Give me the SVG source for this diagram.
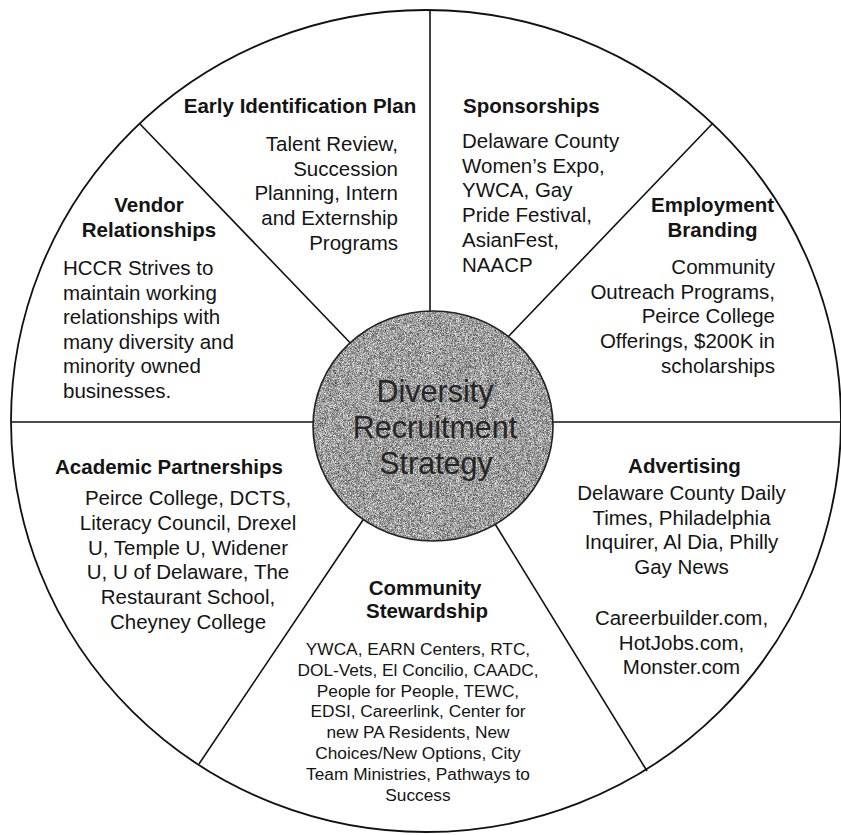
<svg xmlns="http://www.w3.org/2000/svg" width="841" height="835" viewBox="0 0 841 835">
<defs>
<style>
text{font-family:"Liberation Sans",Arial,sans-serif;fill:#141414}
.t{font-size:20.5px;font-weight:bold}
.b{font-size:20.5px}
.s{font-size:17.3px}
.c{font-size:30.5px;fill:#262626}
.m{text-anchor:middle}
.e{text-anchor:end}
.spoke{stroke:#111;stroke-width:1.6;fill:none}
</style>
<filter id="grain" x="0" y="0" width="1" height="1" color-interpolation-filters="sRGB">
<feTurbulence type="fractalNoise" baseFrequency="1.6" numOctaves="1" seed="5" result="t"/>
<feColorMatrix in="t" type="matrix" values="1.3 0 0 0 -0.03  1.3 0 0 0 -0.03  1.3 0 0 0 -0.03  0 0 0 0 1" result="g"/>
<feComposite in="g" in2="SourceGraphic" operator="in"/>
</filter>
</defs>
<rect width="841" height="835" fill="#ffffff"/>
<g id="frame">
<ellipse cx="426" cy="421" rx="415" ry="411" fill="none" stroke="#111" stroke-width="1.8"/>
</g>
<g id="connectors">
<line class="spoke" x1="430" y1="10" x2="430" y2="320"/>
<line class="spoke" x1="140" y1="124" x2="359" y2="352"/>
<line class="spoke" x1="713" y1="123" x2="505" y2="340"/>
<line class="spoke" x1="11" y1="422" x2="325" y2="422"/>
<line class="spoke" x1="540" y1="422" x2="841" y2="422"/>
<line class="spoke" x1="199" y1="764" x2="367" y2="514"/>
<line class="spoke" x1="647" y1="771" x2="492" y2="519"/>
</g>
<g id="center">
<ellipse cx="433" cy="426" rx="120" ry="115" fill="#999" filter="url(#grain)"/>
<ellipse cx="433" cy="426" rx="120" ry="115" fill="none" stroke="#222" stroke-width="1.6"/>
<text class="c m" x="435" y="402">Diversity</text>
<text class="c m" x="435" y="438">Recruitment</text>
<text class="c m" x="436" y="474">Strategy</text>
</g>
<g id="early-identification">
<text class="t m" x="300" y="113">Early Identification Plan</text>
<text class="b e" x="398" y="151">Talent Review,</text>
<text class="b e" x="398" y="175.7">Succession</text>
<text class="b e" x="398" y="200.4">Planning, Intern</text>
<text class="b e" x="398" y="225">and Externship</text>
<text class="b e" x="398" y="249.7">Programs</text>
</g>
<g id="vendor">
<text class="t m" x="149" y="212">Vendor</text>
<text class="t m" x="149" y="237">Relationships</text>
<text class="b" x="63" y="275">HCCR Strives to</text>
<text class="b" x="63" y="299.6">maintain working</text>
<text class="b" x="63" y="324.2">relationships with</text>
<text class="b" x="63" y="348.8">many diversity and</text>
<text class="b" x="63" y="373.4">minority owned</text>
<text class="b" x="63" y="398">businesses.</text>
</g>
<g id="sponsorships">
<text class="t" x="463" y="113">Sponsorships</text>
<text class="b" x="462" y="148">Delaware County</text>
<text class="b" x="462" y="172.7">Women’s Expo,</text>
<text class="b" x="462" y="197.4">YWCA, Gay</text>
<text class="b" x="462" y="222.1">Pride Festival,</text>
<text class="b" x="462" y="246.8">AsianFest,</text>
<text class="b" x="462" y="271.5">NAACP</text>
</g>
<g id="employment-branding">
<text class="t m" x="712.5" y="212">Employment</text>
<text class="t m" x="712.5" y="237">Branding</text>
<text class="b e" x="775" y="274">Community</text>
<text class="b e" x="775" y="298.7">Outreach Programs,</text>
<text class="b e" x="775" y="323.4">Peirce College</text>
<text class="b e" x="775" y="348.1">Offerings, $200K in</text>
<text class="b e" x="775" y="372.8">scholarships</text>
</g>
<g id="academic-partnerships">
<text class="t m" x="169" y="474">Academic Partnerships</text>
<text class="b m" x="188" y="505">Peirce College, DCTS,</text>
<text class="b m" x="188" y="529.8">Literacy Council, Drexel</text>
<text class="b m" x="188" y="554.6">U, Temple U, Widener</text>
<text class="b m" x="188" y="579.4">U, U of Delaware, The</text>
<text class="b m" x="188" y="604.2">Restaurant School,</text>
<text class="b m" x="188" y="629">Cheyney College</text>
</g>
<g id="community-stewardship">
<text class="t m" x="425" y="595">Community</text>
<text class="t m" x="427" y="618">Stewardship</text>
<text class="s m" x="418" y="655">YWCA, EARN Centers, RTC,</text>
<text class="s m" x="418" y="675.8">DOL-Vets, El Concilio, CAADC,</text>
<text class="s m" x="418" y="696.6">People for People, TEWC,</text>
<text class="s m" x="418" y="717.4">EDSI, Careerlink, Center for</text>
<text class="s m" x="418" y="738.2">new PA Residents, New</text>
<text class="s m" x="418" y="759">Choices/New Options, City</text>
<text class="s m" x="418" y="779.8">Team Ministries, Pathways to</text>
<text class="s m" x="418" y="800.6">Success</text>
</g>
<g id="advertising">
<text class="t m" x="684.5" y="473">Advertising</text>
<text class="b m" x="681.5" y="500">Delaware County Daily</text>
<text class="b m" x="681.5" y="524.7">Times, Philadelphia</text>
<text class="b m" x="681.5" y="549.4">Inquirer, Al Dia, Philly</text>
<text class="b m" x="681.5" y="574.1">Gay News</text>
<text class="b m" x="681.5" y="625">Careerbuilder.com,</text>
<text class="b m" x="681.5" y="649.5">HotJobs.com,</text>
<text class="b m" x="681.5" y="674">Monster.com</text>
</g>
</svg>
